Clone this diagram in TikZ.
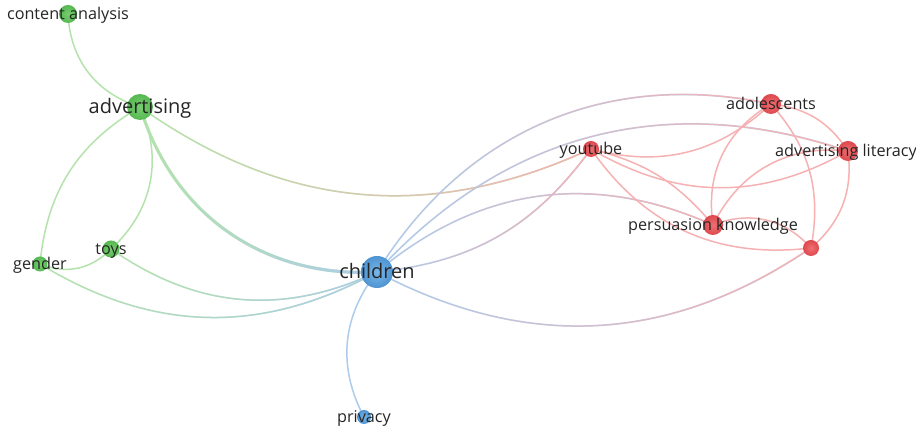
\documentclass[tikz,border=0pt]{standalone}
\usepackage{fontspec}
\setmainfont{Open Sans}
\usetikzlibrary{backgrounds,fadings}
\definecolor{gnode}{RGB}{86,184,82}
\definecolor{gnodeL}{RGB}{120,206,112}
\definecolor{bnode}{RGB}{78,148,210}
\definecolor{bnodeL}{RGB}{120,182,232}
\definecolor{rnode}{RGB}{222,72,78}
\definecolor{rnodeL}{RGB}{238,112,112}
\definecolor{txt}{RGB}{38,38,38}
\definecolor{gline}{RGB}{180,227,172}
\definecolor{rline}{RGB}{246,178,178}
\definecolor{bline}{RGB}{174,204,236}
\begin{document}
\begin{tikzpicture}[x=1pt,y=1pt,
  gdot/.style={circle,inner sep=0pt,draw=none,inner color=gnodeL,outer color=gnode},
  bdot/.style={circle,inner sep=0pt,draw=none,inner color=bnodeL,outer color=bnode},
  rdot/.style={circle,inner sep=0pt,draw=none,inner color=rnodeL,outer color=rnode},
  lbl/.style={font=\fontsize{16.2}{19}\selectfont,text=txt,inner sep=0pt,anchor=base,yshift=-5.8pt},
  biglbl/.style={font=\fontsize{20}{23}\selectfont,text=txt,inner sep=0pt,anchor=base,yshift=-7pt},
  edge/.style={line width=1.5pt,line cap=round},
  fadeE/.style={path fading=west}]
\useasboundingbox (0,0) rectangle (916,430);
% nodes
\node[gdot,minimum size=18pt] (ca) at (68,416) {};
\node[gdot,minimum size=26pt] (adv) at (140,323) {};
\node[gdot,minimum size=17pt] (toys) at (111,181) {};
\node[gdot,minimum size=15pt] (gen) at (40,166) {};
\node[bdot,minimum size=32pt] (ch) at (377,158) {};
\node[bdot,minimum size=14pt] (pri) at (364,13) {};
\node[rdot,minimum size=16pt] (yt) at (591,281) {};
\node[rdot,minimum size=20pt] (ado) at (771,326) {};
\node[rdot,minimum size=20pt] (al) at (848,279) {};
\node[rdot,minimum size=20pt] (pk) at (713,205) {};
\node[rdot,minimum size=16pt] (un) at (811,182) {};
% edges
\begin{scope}[on background layer]
\fill[white] (0,0) rectangle (916,430);
\draw[edge,gline] (ca.center) to[bend right=35] (adv.center);
\draw[edge,gline] (adv.center) to[bend left=36] (toys.center);
\draw[edge,gline] (adv.center) to[bend right=27] (gen.center);
\draw[edge,gline] (gen.center) to[bend right=34] (toys.center);
% green-blue
\draw[edge,gline,line width=3pt] (adv.center) to[bend right=38] (ch.center);
\draw[edge,bline,line width=3pt,fadeE] (adv.center) to[bend right=38] (ch.center);
\draw[edge,gline] (toys.center) to[bend right=30] (ch.center);
\draw[edge,bline,fadeE] (toys.center) to[bend right=30] (ch.center);
\draw[edge,gline] (gen.center) to[bend right=30] (ch.center);
\draw[edge,bline,fadeE] (gen.center) to[bend right=30] (ch.center);
% green-red
\draw[edge,gline] (adv.center) to[bend right=30] (yt.center);
\draw[edge,rline,fadeE] (adv.center) to[bend right=30] (yt.center);
% blue
\draw[edge,bline] (ch.center) to[bend right=33] (pri.center);
% blue-red
\draw[edge,bline] (ch.center) to[bend left=35] (ado.center);
\draw[edge,rline,fadeE] (ch.center) to[bend left=35] (ado.center);
\draw[edge,bline] (ch.center) to[bend left=33] (al.center);
\draw[edge,rline,fadeE] (ch.center) to[bend left=33] (al.center);
\draw[edge,bline] (ch.center) to[bend left=32] (pk.center);
\draw[edge,rline,fadeE] (ch.center) to[bend left=32] (pk.center);
\draw[edge,bline] (ch.center) to[bend right=24] (yt.center);
\draw[edge,rline,fadeE] (ch.center) to[bend right=24] (yt.center);
\draw[edge,bline] (ch.center) to[bend right=31] (un.center);
\draw[edge,rline,fadeE] (ch.center) to[bend right=31] (un.center);
% red
\draw[edge,rline] (yt.center) to[bend right=29] (ado.center);
\draw[edge,rline] (yt.center) to[bend right=30] (al.center);
\draw[edge,rline] (yt.center) to[bend left=18] (pk.center);
\draw[edge,rline] (yt.center) to[bend right=31] (un.center);
\draw[edge,rline] (ado.center) to[bend left=25] (al.center);
\draw[edge,rline] (ado.center) to[bend right=34] (pk.center);
\draw[edge,rline] (al.center) to[bend right=35] (pk.center);
\draw[edge,rline] (ado.center) to[bend left=26] (un.center);
\draw[edge,rline] (al.center) to[bend left=28] (un.center);
\draw[edge,rline] (pk.center) to[bend left=35] (un.center);
\end{scope}
% labels
\node[lbl] (ca-l) at (ca.center) {content analysis};
\node[biglbl] (adv-l) at (adv.center) {advertising};
\node[lbl] (toys-l) at (toys.center) {toys};
\node[lbl] (gen-l) at (gen.center) {gender};
\node[biglbl] (ch-l) at (ch.center) {children};
\node[lbl] (pri-l) at (pri.center) {privacy};
\node[lbl] (yt-l) at (yt.center) {youtube};
\node[lbl] (ado-l) at (ado.center) {adolescents};
\node[lbl] (al-l) at ([xshift=-2pt]al.center) {advertising literacy};
\node[lbl] (pk-l) at (pk.center) {persuasion knowledge};
\end{tikzpicture}
\end{document}
